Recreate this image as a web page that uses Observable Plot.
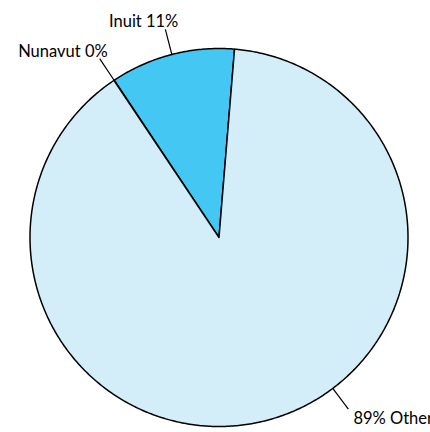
<!DOCTYPE html>
<html>
<head>
<meta charset="utf-8">
<script src="https://cdn.jsdelivr.net/npm/d3@7"></script>
<script src="https://cdn.jsdelivr.net/npm/@observablehq/plot@0.6"></script>
<style>
  html, body { margin: 0; padding: 0; background: #fff; overflow: hidden; }
  svg { display: block; }
</style>
</head>
<body>
<div id="chart"></div>
<script>
const categories = ["Nunavut", "Inuit", "Other"];
const values = [0.05, 10.65, 89.3];
const labels = ["Nunavut 0%", "Inuit 11%", "89% Other"];
const colors = ["#44c8f3", "#44c8f3", "#d3edf9"];

const W = 430, H = 432;
const cx = 218.5, cy = 237, R = 189, Rl = 215;
const start = -33.8 * Math.PI / 180;

const data = categories.map((c, i) => ({name: c, value: values[i], label: labels[i]}));
const arcs = d3.pie().sort(null).value(d => d.value)
  .startAngle(start).endAngle(start + 2 * Math.PI)(data);

const pt = (a, r) => [cx + r * Math.sin(a), cy - r * Math.cos(a)];

const poly = [];
for (const a of arcs) {
  const n = Math.max(2, Math.ceil((a.endAngle - a.startAngle) / 0.01));
  poly.push({name: a.data.name, x: cx, y: cy});
  for (let k = 0; k <= n; k++) {
    const t = a.startAngle + (a.endAngle - a.startAngle) * k / n;
    const [x, y] = pt(t, R);
    poly.push({name: a.data.name, x, y});
  }
  poly.push({name: a.data.name, x: cx, y: cy});
}

// label layout (angle override for the large slice, text offsets)
const layout = {
  Nunavut: {angle: null, anchor: "end", dx: 8, dy: -2},
  Inuit: {angle: null, anchor: "end", dx: 13, dy: -2},
  Other: {angle: 143 * Math.PI / 180, anchor: "start", dx: 5, dy: 15}
};
const leaders = arcs.map(a => {
  const L = layout[a.data.name];
  const ang = L.angle ?? (a.startAngle + a.endAngle) / 2;
  const [x1, y1] = pt(ang, R);
  const [x2, y2] = pt(ang, Rl);
  return {name: a.data.name, label: a.data.label, x1, y1, x2, y2, ...L};
});

const plot = Plot.plot({
  width: W, height: H,
  margin: 0,
  x: {type: "identity", axis: null},
  y: {type: "identity", axis: null},
  color: {domain: categories, range: colors},
  marks: [
    Plot.line(poly, {x: "x", y: "y", z: "name", fill: "name", stroke: "#000", strokeWidth: 1.5, strokeLinejoin: "round", curve: "linear"}),
    Plot.link(leaders, {x1: "x1", y1: "y1", x2: "x2", y2: "y2", stroke: "#000", strokeWidth: 1.2}),
    ...leaders.map(l => Plot.text([l], {
      x: "x2", y: "y2", text: "label", textAnchor: l.anchor, dx: l.dx, dy: l.dy,
      lineAnchor: "bottom", fontSize: 16.5, fontFamily: "Lato", fill: "#000"
    }))
  ]
});
document.getElementById("chart").appendChild(plot);
</script>
</body>
</html>
